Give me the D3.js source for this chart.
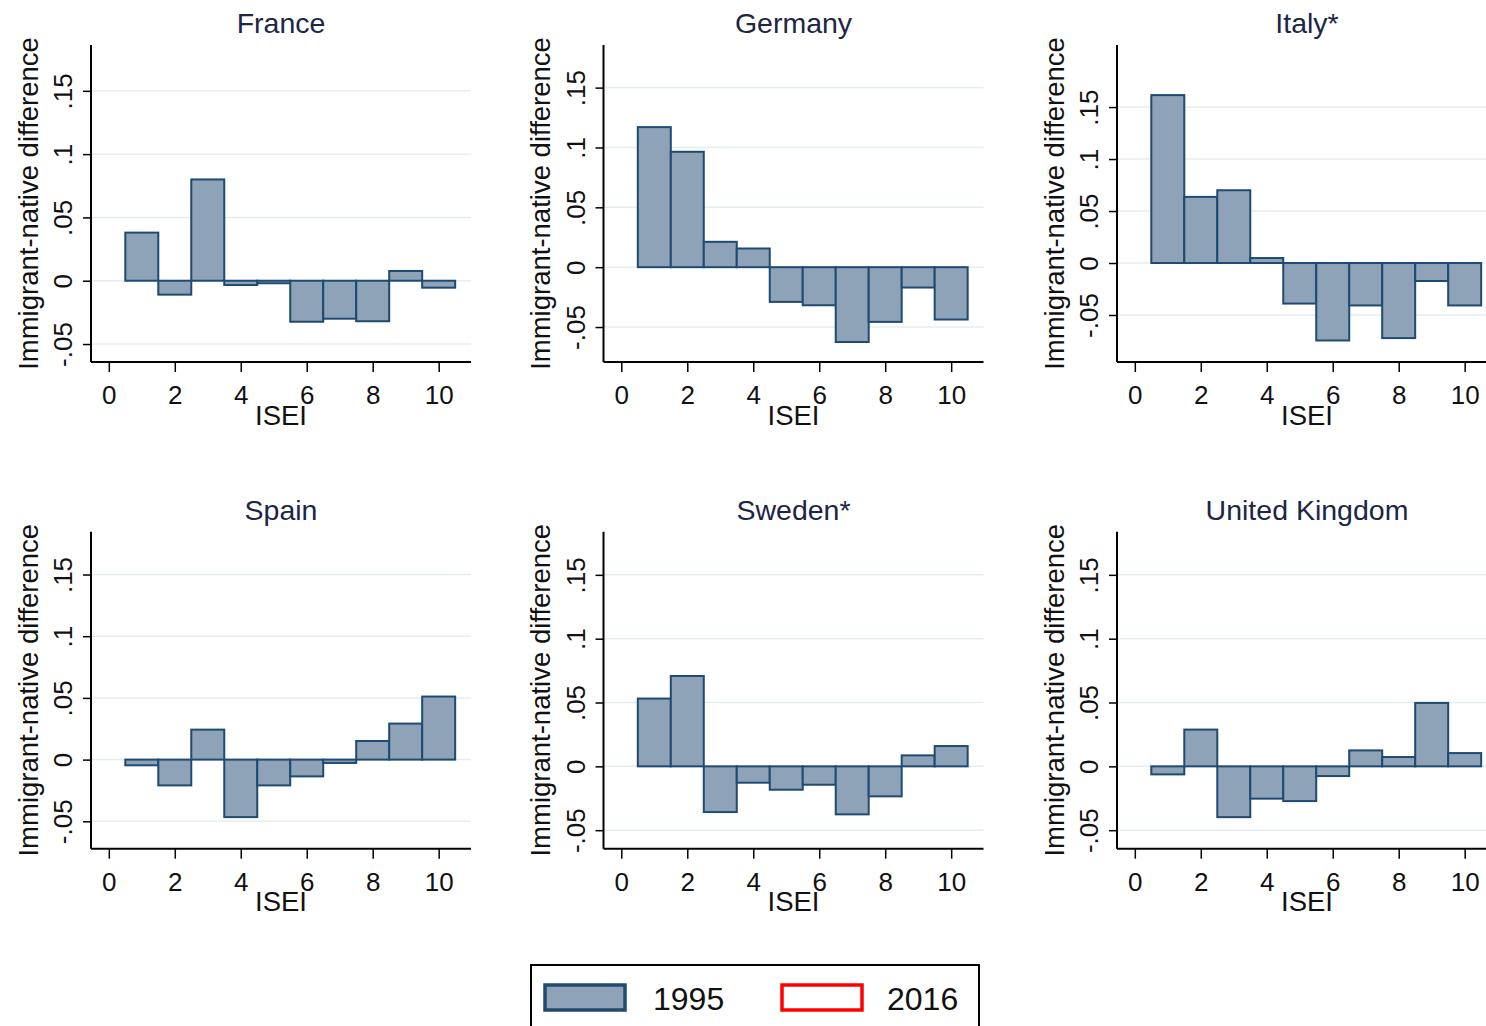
<!DOCTYPE html>
<html><head><meta charset="utf-8">
<script src="https://cdn.jsdelivr.net/npm/d3@7"></script>
<style>html,body{margin:0;padding:0;background:#fff;overflow:hidden}</style>
</head><body>
<svg id="chart" width="1486" height="1026"></svg>
<script>
// ---- data ----
const countries = ["France", "Germany", "Italy*", "Spain", "Sweden*", "United Kingdom"];
const iseiCategories = [1, 2, 3, 4, 5, 6, 7, 8, 9, 10];
const france1995  = [0.038, -0.011, 0.080, -0.0034, -0.002, -0.0324, -0.030, -0.032, 0.0077, -0.0055];
const germany1995 = [0.117, 0.0964, 0.0212, 0.0156, -0.029, -0.0318, -0.0625, -0.0457, -0.017, -0.0437];
const italy1995   = [0.1615, 0.0636, 0.070, 0.0048, -0.039, -0.0745, -0.0408, -0.0722, -0.0173, -0.0408];
const spain1995   = [-0.0046, -0.0209, 0.0243, -0.0466, -0.0209, -0.0136, -0.0027, 0.0151, 0.0292, 0.0511];
const sweden1995  = [0.0531, 0.0708, -0.0358, -0.0128, -0.0183, -0.0144, -0.0376, -0.0235, 0.0086, 0.0159];
const uk1995      = [-0.0063, 0.0288, -0.0398, -0.0253, -0.0272, -0.0076, 0.0125, 0.0073, 0.0497, 0.0104];
const series1995 = [france1995, germany1995, italy1995, spain1995, sweden1995, uk1995];
const yDomains = [[-0.0642, 0.1862], [-0.0792, 0.1856], [-0.0952, 0.2097], [-0.0722, 0.1847], [-0.0645, 0.1838], [-0.0645, 0.1838]];
const xDomain = [-0.54, 10.98];
const yTicks = [-0.05, 0, 0.05, 0.1, 0.15];
const yTickLabels = ["-.05", "0", ".05", ".1", ".15"];
const xTicks = [0, 2, 4, 6, 8, 10];
const legendLabels = ["1995", "2016"];
const xTitle = "ISEI";
const yTitle = "Immigrant-native difference";

// ---- styles ----
const FONT = "'Liberation Sans', Arial, sans-serif";
const fillColor = "#8ea3b7", strokeColor = "#1f4a72";
const svg = d3.select("#chart");

const colX = [91, 603.5, 1117];
const rowY = [45, 531.7];
const plotW = 380, plotH = 317;

countries.forEach((name, i) => {
  const col = i % 3, row = Math.floor(i / 3);
  const g = svg.append("g").attr("transform", `translate(${colX[col]},${rowY[row]})`);
  const x = d3.scaleLinear().domain(xDomain).range([0, plotW]);
  const y = d3.scaleLinear().domain(yDomains[i]).range([plotH, 0]);

  // gridlines
  g.append("g").selectAll("line").data(yTicks).join("line")
    .attr("x1", 0).attr("x2", plotW)
    .attr("y1", d => y(d)).attr("y2", d => y(d))
    .attr("stroke", "#e4edf1").attr("stroke-width", 1.5);

  // bars
  const vals = series1995[i];
  g.append("g").selectAll("rect").data(iseiCategories).join("rect")
    .attr("x", d => x(d - 0.5))
    .attr("width", d => x(d + 0.5) - x(d - 0.5))
    .attr("y", (d, j) => y(Math.max(0, vals[j])))
    .attr("height", (d, j) => Math.abs(y(vals[j]) - y(0)))
    .attr("fill", fillColor).attr("stroke", strokeColor).attr("stroke-width", 2);

  // y axis
  const ya = g.append("g").call(d3.axisLeft(y).tickValues(yTicks).tickFormat((d, k) => yTickLabels[k]).tickSize(8).tickPadding(0));
  ya.select(".domain").remove();
  ya.selectAll(".tick line").attr("stroke", "#000").attr("stroke-width", 1.5);
  ya.selectAll(".tick text").attr("transform", "rotate(-90)").attr("x", 0).attr("y", -28)
    .attr("dy", "0.35em").attr("text-anchor", "middle")
    .attr("font-family", FONT).attr("font-size", 26).attr("fill", "#111");
  g.append("line").attr("x1", 0).attr("x2", 0).attr("y1", 0).attr("y2", plotH)
    .attr("stroke", "#000").attr("stroke-width", 2);

  // x axis
  const xa = g.append("g").attr("transform", `translate(0,${plotH})`)
    .call(d3.axisBottom(x).tickValues(xTicks).tickFormat(d3.format("d")).tickSize(10).tickPadding(0));
  xa.select(".domain").remove();
  xa.selectAll(".tick line").attr("stroke", "#000").attr("stroke-width", 1.5);
  xa.selectAll(".tick text").attr("y", 33).attr("dy", "0.35em")
    .attr("font-family", FONT).attr("font-size", 26).attr("fill", "#111");
  g.append("line").attr("x1", 0).attr("x2", plotW).attr("y1", plotH).attr("y2", plotH)
    .attr("stroke", "#000").attr("stroke-width", 2);

  // titles
  g.append("text").attr("x", plotW / 2).attr("y", -22).attr("dy", "0.35em")
    .attr("text-anchor", "middle").attr("font-family", FONT).attr("font-size", 28.5)
    .attr("fill", "#1c2645").text(name);
  g.append("text").attr("x", plotW / 2).attr("y", plotH + 53).attr("dy", "0.35em")
    .attr("text-anchor", "middle").attr("font-family", FONT).attr("font-size", 27.5)
    .attr("fill", "#111").text(xTitle);
  g.append("text").attr("transform", `translate(-63,${plotH / 2}) rotate(-90)`).attr("dy", "0.35em")
    .attr("text-anchor", "middle").attr("font-family", FONT).attr("font-size", 27.5)
    .attr("fill", "#111").text(yTitle);
});

// legend
const lg = svg.append("g");
lg.append("rect").attr("x", 531).attr("y", 965).attr("width", 448).attr("height", 80)
  .attr("fill", "#fff").attr("stroke", "#000").attr("stroke-width", 2);
const keyX = [545, 782], textX = [653, 887];
legendLabels.forEach((lab, k) => {
  lg.append("rect").attr("x", keyX[k]).attr("y", 985).attr("width", 80).attr("height", 25)
    .attr("fill", k === 0 ? fillColor : "#fff").attr("stroke", k === 0 ? strokeColor : "#ff0000")
    .attr("stroke-width", 3.5);
  lg.append("text").attr("x", textX[k]).attr("y", 999).attr("dy", "0.35em")
    .attr("font-family", FONT).attr("font-size", 32).attr("fill", "#111").text(lab);
});
</script>
</body></html>
